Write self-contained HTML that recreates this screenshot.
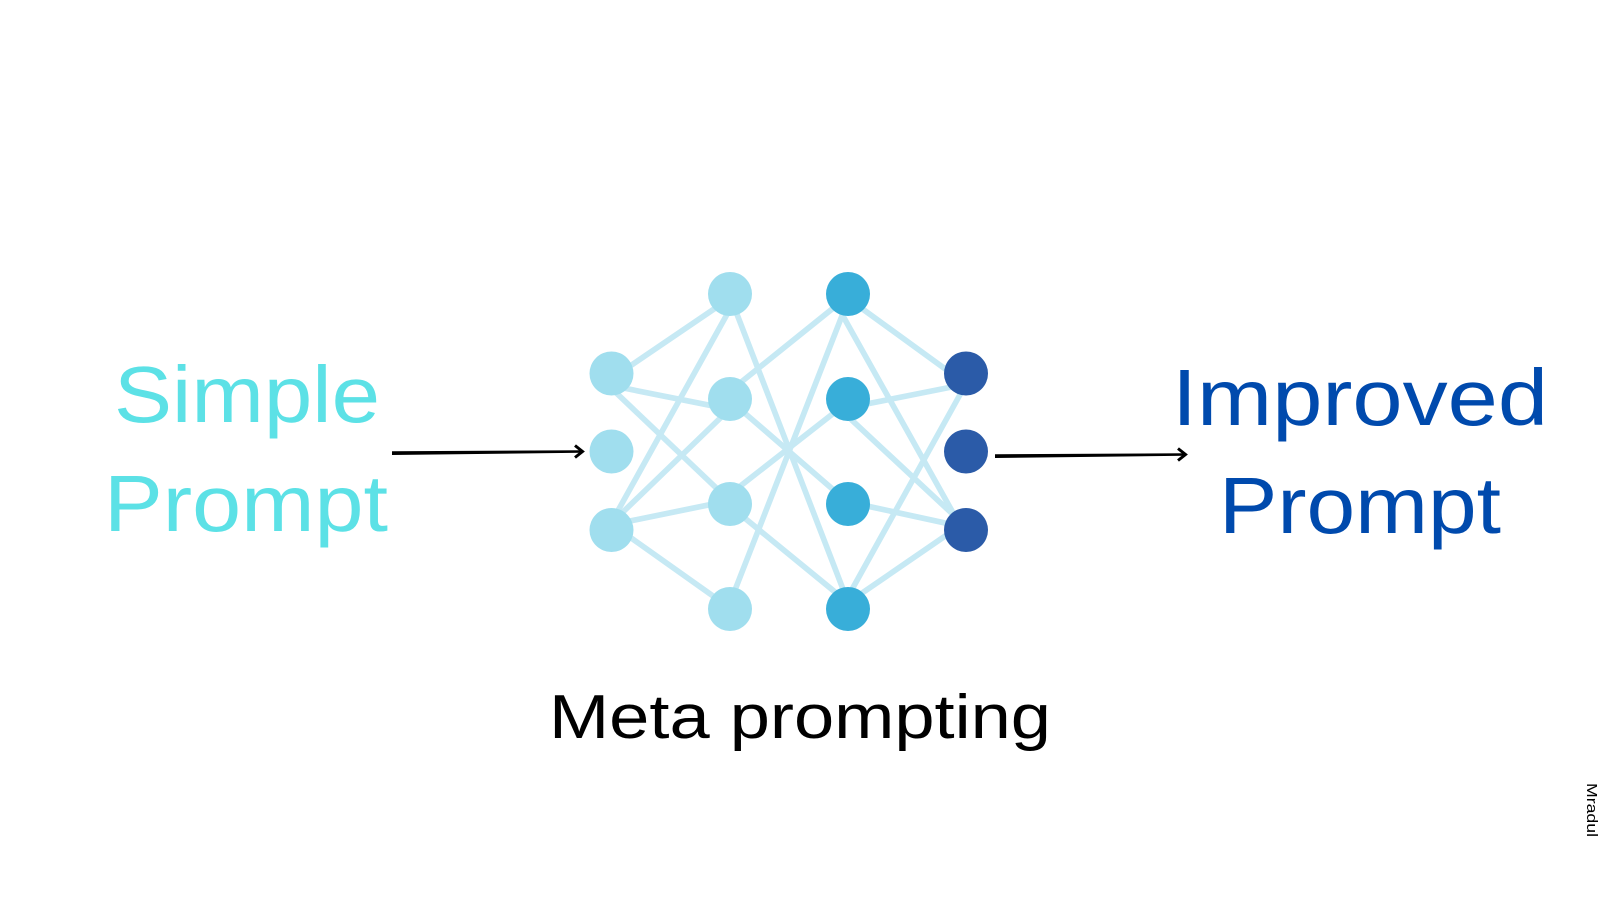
<!DOCTYPE html>
<html><head><meta charset="utf-8"><style>html,body{margin:0;padding:0;background:#fff}svg{display:block}text{font-family:"Liberation Sans",sans-serif}</style></head>
<body>
<svg xmlns="http://www.w3.org/2000/svg" width="1600" height="900" viewBox="0 0 1600 900">
<rect width="1600" height="900" fill="#fff"/>
<g transform="translate(560 250) scale(0.33333)" stroke="#C6E9F4" stroke-width="17" stroke-linecap="square" fill="none">
<line x1="215" y1="345" x2="465" y2="175"/>
<line x1="195" y1="415" x2="445" y2="465"/>
<line x1="170" y1="430" x2="470" y2="715"/>
<line x1="175" y1="780" x2="500" y2="195"/>
<line x1="190" y1="785" x2="480" y2="505"/>
<line x1="215" y1="812" x2="445" y2="765"/>
<line x1="215" y1="865" x2="455" y2="1035"/>
<line x1="530" y1="190" x2="850" y2="1020"/>
<line x1="555" y1="490" x2="815" y2="715"/>
<line x1="545" y1="395" x2="825" y2="170"/>
<line x1="545" y1="705" x2="820" y2="490"/>
<line x1="555" y1="805" x2="830" y2="1030"/>
<line x1="525" y1="1020" x2="845" y2="200"/>
<line x1="905" y1="175" x2="1160" y2="360"/>
<line x1="850" y1="200" x2="1180" y2="790"/>
<line x1="930" y1="460" x2="1180" y2="410"/>
<line x1="875" y1="510" x2="1170" y2="785"/>
<line x1="930" y1="770" x2="1160" y2="820"/>
<line x1="875" y1="1020" x2="1205" y2="425"/>
<line x1="905" y1="1030" x2="1160" y2="855"/>
</g>
<g fill="#A0DEEE">
<circle cx="611.500" cy="373.500" r="22"/><circle cx="611.500" cy="451.500" r="22"/><circle cx="611.500" cy="530" r="22"/>
<circle cx="730" cy="294" r="22"/><circle cx="730" cy="399" r="22"/><circle cx="730" cy="504" r="22"/><circle cx="730" cy="609" r="22"/>
</g>
<g fill="#38AED9">
<circle cx="848" cy="294" r="22"/><circle cx="848" cy="399" r="22"/><circle cx="848" cy="504" r="22"/><circle cx="848" cy="609" r="22"/>
</g>
<g fill="#2B5BA8">
<circle cx="966" cy="373.500" r="22"/><circle cx="966" cy="451.500" r="22"/><circle cx="966" cy="530" r="22"/>
</g>
<polygon points="392,451.200 582,450.300 582,452.700 392,455" fill="#000"/>
<polyline points="575,445.500 582.500,451.500 575,457.500" fill="none" stroke="#000" stroke-width="3"/>
<polygon points="995,454.200 1185,453.300 1185,455.700 995,458" fill="#000"/>
<polyline points="1178,448.500 1185.500,454.500 1178,460.500" fill="none" stroke="#000" stroke-width="3"/>
<text x="114" y="422" font-size="80" fill="#5CE1E6" textLength="266" lengthAdjust="spacingAndGlyphs">Simple</text>
<text x="104" y="531" font-size="80" fill="#5CE1E6" textLength="284" lengthAdjust="spacingAndGlyphs">Prompt</text>
<text x="1172" y="425" font-size="80" fill="#004AAD" textLength="376" lengthAdjust="spacingAndGlyphs">Improved</text>
<text x="1219" y="533" font-size="80" fill="#004AAD" textLength="282" lengthAdjust="spacingAndGlyphs">Prompt</text>
<text x="549" y="738" font-size="62" fill="#000" textLength="502" lengthAdjust="spacingAndGlyphs">Meta prompting</text>
<text transform="translate(1587 783) rotate(90)" font-size="15" fill="#000" textLength="54" lengthAdjust="spacingAndGlyphs">Mradul</text>
</svg>
</body></html>
